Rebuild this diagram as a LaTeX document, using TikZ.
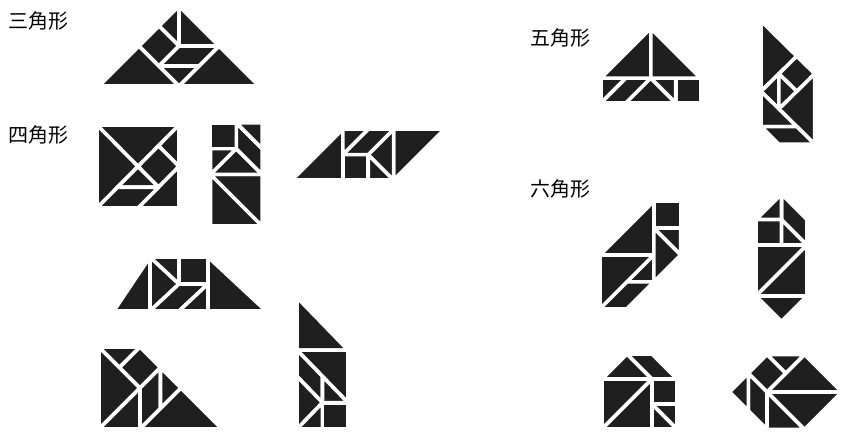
\documentclass[tikz,border=0pt]{standalone}
\usepackage{fontspec}
\newfontfamily\cjk{Noto Sans CJK JP}
\tikzset{
  piece/.style={fill=black!88, draw=white, line width=3.6pt, line join=round},
  lbl/.style={font=\cjk\fontsize{20}{20}\selectfont, inner sep=0pt, anchor=west}
}
\begin{document}
\begin{tikzpicture}[x=1pt,y=-1pt]
\useasboundingbox[fill=white] (0,0) rectangle (847,441);
% labels
\node[lbl] (t3) at (8,21) {三角形};
\node[lbl] (t4) at (8,135) {四角形};
\node[lbl] (t5) at (530,38) {五角形};
\node[lbl] (t6) at (530,189) {六角形};
% Fig 1 triangle
\begin{scope}[shift={(99,86)},x=20pt,y=20pt]
\draw[piece] (0,0)--(4,0)--(2,2)--cycle;
\draw[piece] (4,0)--(8,0)--(6,2)--cycle;
\draw[piece] (4,4)--(4,2)--(6,2)--cycle;
\draw[piece] (4,4)--(3,3)--(4,2)--cycle;
\draw[piece] (3,3)--(2,2)--(3,1)--(4,2)--cycle;
\draw[piece] (3,1)--(5,1)--(6,2)--(4,2)--cycle;
\draw[piece] (3,1)--(5,1)--(4,0)--cycle;
\end{scope}
% Fig 2 square
\begin{scope}[shift={(97,208)},x=20.5pt,y=20.75pt]
\draw[piece] (0,4)--(4,4)--(2,2)--cycle;
\draw[piece] (0,4)--(2,2)--(0,0)--cycle;
\draw[piece] (4,4)--(3,3)--(4,2)--cycle;
\draw[piece] (3,3)--(4,2)--(3,1)--(2,2)--cycle;
\draw[piece] (4,0)--(4,2)--(2,0)--cycle;
\draw[piece] (2,2)--(1,1)--(3,1)--cycle;
\draw[piece] (1,1)--(3,1)--(2,0)--(0,0)--cycle;
\end{scope}
% Fig 3 rectangle
\begin{scope}[shift={(210.5,226)},x=25.8pt,y=25.8pt]
\draw[piece] (0,0)--(2,0)--(0,2)--cycle;
\draw[piece] (2,0)--(2,2)--(0,2)--cycle;
\draw[piece] (0,2)--(2,2)--(1,3)--cycle;
\draw[piece] (0,2)--(0,3)--(1,3)--cycle;
\draw[piece] (0,3)--(1,3)--(1,4)--(0,4)--cycle;
\draw[piece] (1,4)--(1,3)--(2,2)--(2,3)--cycle;
\draw[piece] (1,4)--(2,4)--(2,3)--cycle;
\end{scope}
% Fig 4 parallelogram
\begin{scope}[shift={(292,180)},x=25.4pt,y=25.4pt]
\draw[piece] (0,0)--(2,0)--(2,2)--cycle;
\draw[piece] (4,2)--(6,2)--(4,0)--cycle;
\draw[piece] (2,0)--(3,0)--(3,1)--(2,1)--cycle;
\draw[piece] (3,0)--(4,0)--(3,1)--cycle;
\draw[piece] (3,1)--(4,0)--(4,2)--cycle;
\draw[piece] (2,1)--(3,1)--(4,2)--(3,2)--cycle;
\draw[piece] (2,1)--(3,2)--(2,2)--cycle;
\end{scope}
% Fig 5 trapezoid
\begin{scope}[shift={(150,311)},x=29pt,y=27pt]
\draw[piece] (-1.25,0)--(0,0)--(0,2)--cycle;
\draw[piece] (0,0)--(0,2)--(1,1)--cycle;
\draw[piece] (0,2)--(1,2)--(1,1)--cycle;
\draw[piece] (1,1)--(2,1)--(2,2)--(1,2)--cycle;
\draw[piece] (0,0)--(1,1)--(2,1)--(1,0)--cycle;
\draw[piece] (1,0)--(2,1)--(2,0)--cycle;
\draw[piece] (2,0)--(2,2)--(4.0,0)--cycle;
\end{scope}
% Fig 6 right trapezoid
\begin{scope}[shift={(99,429)},x=20.5pt,y=20.5pt]
\draw[piece] (0,0)--(0,4)--(2,2)--cycle;
\draw[piece] (0,4)--(2,4)--(1,3)--cycle;
\draw[piece] (1,3)--(2,4)--(3,3)--(2,2)--cycle;
\draw[piece] (0,0)--(2,0)--(2,2)--cycle;
\draw[piece] (2,0)--(3,1)--(3,3)--(2,2)--cycle;
\draw[piece] (3,1)--(4,2)--(3,3)--cycle;
\draw[piece] (2,0)--(6,0)--(4,2)--cycle;
\end{scope}
% Fig 7
\begin{scope}[shift={(297,429)},x=25.5pt,y=26.3pt]
\draw[piece] (0,3)--(0,5)--(2,3)--cycle;
\draw[piece] (0,3)--(2,3)--(2,1)--cycle;
\draw[piece] (0,3)--(1,2)--(1,1)--(0,2)--cycle;
\draw[piece] (1,2)--(2,1)--(1,1)--cycle;
\draw[piece] (0,2)--(1,1)--(0,0)--cycle;
\draw[piece] (0,0)--(1,0)--(1,1)--cycle;
\draw[piece] (1,0)--(2,0)--(2,1)--(1,1)--cycle;
\end{scope}
% Fig 8 pentagon 1
\begin{scope}[shift={(601,103)},x=24.9pt,y=24.9pt]
\draw[piece] (0,1)--(1,1)--(0,0)--cycle;
\draw[piece] (1,1)--(2,1)--(1,0)--(0,0)--cycle;
\draw[piece] (1,0)--(2,1)--(3,0)--cycle;
\draw[piece] (2,1)--(3,1)--(3,0)--cycle;
\draw[piece] (3,0)--(4,0)--(4,1)--(3,1)--cycle;
\draw[piece] (0,1)--(2,1)--(2,3)--cycle;
\draw[piece] (2,1)--(4,1)--(2,3)--cycle;
\end{scope}
% Fig 9 pentagon 2 (y down)
\begin{scope}[shift={(761,21)},x=17.9pt,y=-17.6pt]
\draw[piece] (0,0)--(2,2)--(0,4)--cycle;
\draw[piece] (2,2)--(3,3)--(2,4)--(1,3)--cycle;
\draw[piece] (0,4)--(1,3)--(1,5)--cycle;
\draw[piece] (1,3)--(2,4)--(1,5)--cycle;
\draw[piece] (1,5)--(3,3)--(3,7)--cycle;
\draw[piece] (0,4)--(0,6)--(2,6)--cycle;
\draw[piece] (0,6)--(2,6)--(3,7)--(1,7)--cycle;
\end{scope}
% Fig 10 hexagon 1
\begin{scope}[shift={(600,255)},x=26.9pt,y=26.9pt]
\draw[piece] (0,0)--(2,0)--(2,2)--cycle;
\draw[piece] (0,0)--(2,0)--(0,-2)--cycle;
\draw[piece] (1,-1)--(2,0)--(2,-1)--cycle;
\draw[piece] (0,-2)--(1,-1)--(2,-1)--(1,-2)--cycle;
\draw[piece] (2,1)--(3,1)--(3,2)--(2,2)--cycle;
\draw[piece] (2,1)--(3,1)--(3,0)--cycle;
\draw[piece] (2,1)--(3,0)--(2,-1)--cycle;
\end{scope}
% Fig 11 hexagon 2
\begin{scope}[shift={(756,296)},x=25.5pt,y=25.5pt]
\draw[piece] (0,0)--(2,0)--(1,-1)--cycle;
\draw[piece] (0,0)--(2,2)--(0,2)--cycle;
\draw[piece] (0,0)--(2,0)--(2,2)--cycle;
\draw[piece] (0,2)--(1,2)--(1,3)--(0,3)--cycle;
\draw[piece] (1,3)--(2,2)--(1,2)--cycle;
\draw[piece] (1,3)--(2,2)--(2,3)--(1,4)--cycle;
\draw[piece] (0,3)--(1,3)--(1,4)--cycle;
\end{scope}
% Fig 12 house
\begin{scope}[shift={(602,429)},x=25pt,y=25pt]
\draw[piece] (0,0)--(0,2)--(2,2)--cycle;
\draw[piece] (0,0)--(2,0)--(2,2)--cycle;
\draw[piece] (2,1)--(3,1)--(3,2)--(2,2)--cycle;
\draw[piece] (2,0)--(3,0)--(2,1)--cycle;
\draw[piece] (3,0)--(3,1)--(2,1)--cycle;
\draw[piece] (0,2)--(2,2)--(1,3)--cycle;
\draw[piece] (1,3)--(2,3)--(3,2)--(2,2)--cycle;
\end{scope}
% Fig 13 octagon
\begin{scope}[shift={(767,392)},x=18.7pt,y=18.7pt]
\draw[piece] (0,0)--(4,0)--(2,2)--cycle;
\draw[piece] (0,0)--(4,0)--(2,-2)--cycle;
\draw[piece] (0,2)--(2,2)--(1,1)--cycle;
\draw[piece] (-1,1)--(0,2)--(1,1)--(0,0)--cycle;
\draw[piece] (0,0)--(0,-2)--(2,-2)--cycle;
\draw[piece] (-1,1)--(0,0)--(0,-2)--(-1,-1)--cycle;
\draw[piece] (-2,0)--(-1,1)--(-1,-1)--cycle;
\end{scope}
\end{tikzpicture}
\end{document}
